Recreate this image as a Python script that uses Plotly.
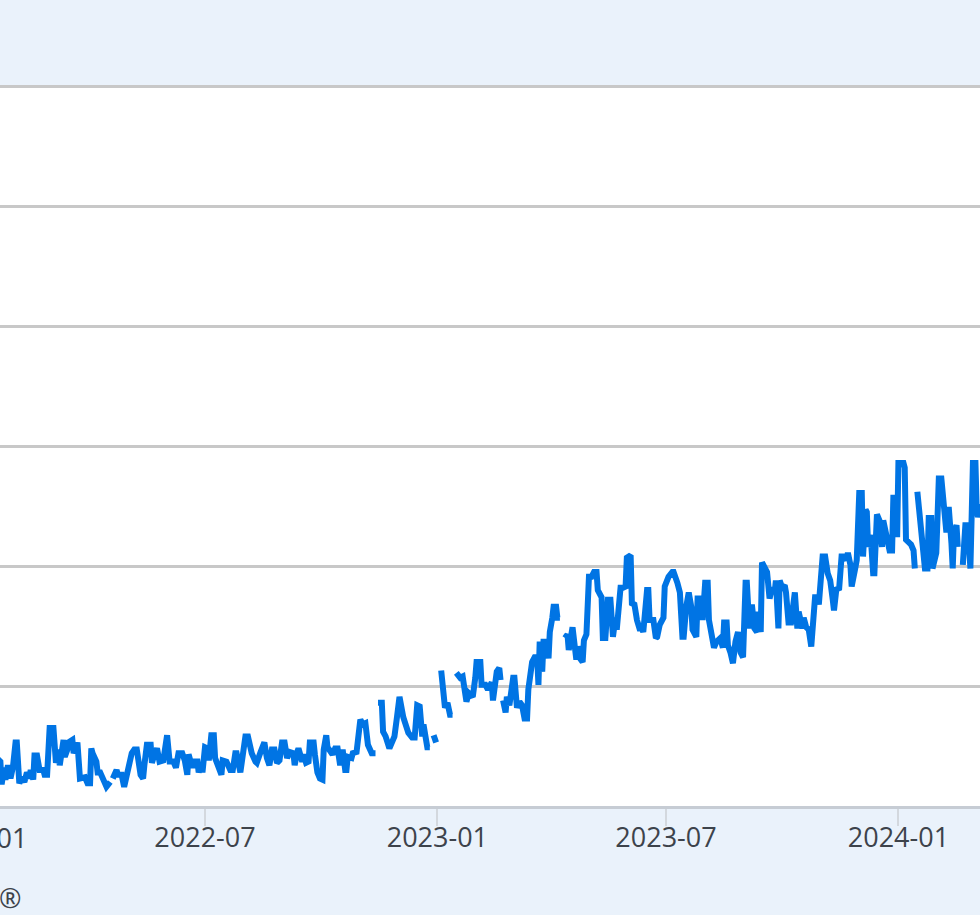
import pandas as pd
import plotly.graph_objects as go

# Day offsets from 2022-01-01 and observed values (None = gap in the series)
days_since_2022 = [
    16, 19, 20, 22, 23, 25, 27, 29, 31, 32, 34, 36, 38, 40, 42, 43, 45, 46, 48, 50,
    53, 54, 56, 58, 61, 63, 65, 66, 69, 70, 72, 73, 76, 77, 79, 80, 82, 84, 86, 88,
    90, 91, 92, 95, 96, 98, 100, 103, 106, 107, 108, 111, 112, 115, 117, 119, 121, 123, 125, 127,
    130, 132, 133, 135, 138, 139, 141, 143, 145, 148, 151, 153, 156, 158, 160, 163, 165, 167, 168, 171,
    172, 175, 176, 178, 179, 181, 183, 184, 186, 188, 189, 191, 194, 195, 198, 201, 203, 205, 206, 209,
    210, 213, 215, 218, 221, 222, 225, 227, 228, 230, 232, 234, 236, 238, 240, 242, 244, 246, 248, 251,
    252, 254, 255, 258, 259, 261, 263, 264, 267, 268, 270, 272, 274, 275, 277, 278, 281, 282, 284, 286,
    288, 290, 292, 293, 294, 297, 298, 301, 304, 306, 308, 310, 313, 316, 317, 318, 321, 322, 324, 327,
    329, 331, 333, 335, 338, 339, 342, 345, 347, 349, 351, 353, 354, 357, 359, 360, 362, 364, 365, 368,
    370, 371, 373, 375, 377, 379, 380, 383, 385, 386, 388, 390, 393, 395, 396, 399, 400, 403, 405, 408,
    409, 412, 414, 415, 416, 417, 419, 420, 422, 425, 426, 428, 430, 432, 434, 436, 437, 440, 442, 444,
    445, 446, 448, 449, 452, 453, 454, 456, 457, 459, 460, 462, 463, 466, 468, 469, 471, 472, 475, 476,
    478, 480, 481, 483, 485, 487, 489, 491, 492, 495, 496, 498, 500, 502, 504, 506, 507, 510, 512, 514,
    515, 518, 519, 521, 523, 525, 527, 528, 531, 532, 533, 536, 538, 539, 541, 544, 545, 548, 551, 552,
    555, 557, 559, 560, 562, 564, 566, 567, 570, 571, 574, 575, 577, 579, 580, 582, 584, 586, 589, 591,
    592, 594, 595, 597, 599, 601, 603, 605, 607, 609, 610, 612, 614, 616, 618, 619, 621, 622, 626, 628,
    630, 632, 633, 635, 636, 638, 640, 641, 643, 645, 647, 648, 650, 651, 654, 655, 657, 659, 661, 662,
    664, 666, 667, 670, 672, 674, 676, 678, 679, 681, 683, 685, 687, 689, 690, 692, 693, 696, 697, 699,
    701, 702, 704, 705, 706, 708, 710, 711, 712, 713, 715, 717, 718, 720, 721, 723, 725, 726, 728, 729,
    730, 734, 735, 736, 738, 740, 742, 743, 744, 745, 747, 749, 751, 753, 754, 756, 757, 760, 761, 762,
    764, 766, 768, 769, 770, 772, 773, 774, 776, 777, 779, 781, 783, 785, 787, 789, 791, 792, 793, 796,
    799,
]

values = [
    4.0, 3.7, 1.8, 3.2, 2.2, 3.4, 2.3, 3.3, 5.3, 5.3, 1.9, 2.4, 2.0, 2.8, 2.3, 3.0, 2.2, 4.2, 4.2, 3.0,
    3.0, 2.6, 2.6, 6.5, 6.5, 3.6, 4.7, 3.4, 5.5, 4.1, 4.7, 5.3, 5.5, 4.4, 4.9, 5.3, 2.3, 2.3, 2.4, 1.9,
    1.9, 4.8, 4.4, 3.7, 2.8, 2.8, 2.4, 1.6, 2.0, None, 2.3, 3.0, 2.6, 2.6, 1.6, 2.6, 3.3, 4.4, 4.7, 4.7,
    2.6, 2.3, 3.4, 5.1, 5.1, 3.6, 4.3, 4.8, 3.7, 3.8, 5.9, 3.7, 3.7, 3.2, 4.4, 4.4, 3.8, 2.6, 4.3, 3.2,
    3.7, 3.7, 2.8, 3.6, 2.8, 4.9, 4.8, 3.8, 5.9, 5.9, 4.0, 3.4, 2.6, 3.8, 3.7, 3.0, 3.0, 4.4, 4.4, 2.8,
    3.6, 5.8, 5.8, 4.4, 3.7, 3.6, 4.5, 5.3, 5.3, 4.0, 3.4, 4.7, 4.7, 3.6, 3.8, 5.3, 5.3, 4.0, 4.5, 4.4,
    3.4, 4.5, 4.8, 3.7, 4.3, 3.6, 3.7, 5.3, 5.3, 4.3, 2.8, 2.3, 2.2, 4.7, 5.9, 4.9, 4.4, 4.3, 4.8, 4.8,
    3.4, 4.7, 3.0, 3.0, 4.1, 4.0, 4.4, 4.5, 7.2, 6.8, 6.9, 5.1, 4.4, 4.4, None, 8.6, 8.6, 6.2, 5.8, 4.8,
    5.3, 5.8, 7.4, 9.1, 7.4, 7.0, 6.1, 5.7, 5.7, 8.4, 8.3, 5.8, 6.8, 4.9, 4.9, None, 5.9, 5.3, None, 11.3,
    8.3, 8.2, 8.6, 7.6, 7.6, None, 11.1, 10.7, 10.8, 9.7, 8.7, 9.4, 9.1, 10.7, 12.0, 12.0, 10.1, 10.1, 9.7, 10.3,
    8.8, 11.2, 11.5, 10.5, None, 8.8, 7.8, 9.1, 8.4, 10.7, 10.7, 8.2, 8.7, 8.4, 7.3, 7.3, 9.7, 12.0, 12.4, 12.4,
    10.1, 13.7, 11.2, 13.7, 13.7, 12.3, 14.5, 15.7, 16.6, 16.6, 15.7, 15.7, None, 14.0, 14.3, 13.0, 14.8, 14.9, 12.2, 13.3,
    12.3, 12.0, 13.8, 14.3, 19.1, 19.1, 19.5, 19.5, 18.0, 17.4, 14.0, 14.0, 17.2, 17.2, 14.1, 15.7, 14.7, 18.2, 18.2, 18.3,
    20.7, 20.9, 16.9, 16.8, 15.5, 14.8, 14.8, 14.5, 18.0, 18.0, 15.5, 15.5, 14.0, 14.1, 15.1, 15.7, 18.3, 19.1, 19.5, 19.5,
    18.6, 17.8, 14.1, 14.1, 16.6, 17.8, 16.6, 14.7, 14.1, 17.3, 17.3, 15.5, 18.6, 18.6, 15.5, 14.0, 13.2, 13.7, 14.0, 13.2,
    15.3, 15.3, 13.4, 12.8, 11.9, 13.7, 14.5, 12.8, 12.4, 18.6, 18.6, 14.8, 16.8, 14.8, 14.5, 16.2, 14.5, 20.3, 19.5, 17.3,
    18.2, 17.8, 18.8, 14.8, 18.8, 18.2, 18.4, 17.8, 15.3, 15.3, 17.8, 17.8, 14.8, 16.2, 14.8, 15.7, 14.9, 14.7, 13.3, 15.5,
    17.4, 17.4, 16.8, 20.8, 20.8, 19.4, 18.8, 17.2, 16.3, 18.2, 18.0, 20.8, 20.8, 20.5, 21.1, 20.1, 18.3, 19.9, 20.5, 26.1,
    26.1, 20.8, 24.7, 24.5, 21.6, 22.6, 19.4, 19.4, 21.9, 24.3, 23.8, 21.6, 23.8, 22.8, 21.8, 21.3, 21.3, 25.7, 25.7, 22.4,
    28.6, 28.6, 28.2, 22.2, 22.0, 21.8, 21.3, 19.8, None, 26.2, 23.7, 21.9, 19.8, 19.8, 24.0, 24.0, 19.8, 21.1, 26.5, 27.3,
    27.3, 25.5, 22.8, 24.7, 24.7, 21.9, 19.8, 22.8, 23.4, 21.6, None, 20.1, 23.4, 23.4, 19.8, 28.6, 28.6, 24.7, 24.1, 25.1,
    22.0,
]

y_ticks = [0, 10, 20, 30, 40, 50, 60]
y_top = 60.1
x_start_day = 18.7
x_end_day = 794.6
first_tick_label = "2022-01"
footer_text = "®"

base = pd.Timestamp("2022-01-01")
dates = [base + pd.Timedelta(days=d) for d in days_since_2022]
x_range = [base + pd.Timedelta(days=x_start_day), base + pd.Timedelta(days=x_end_day)]

BG = "#eaf2fb"
LINE = "#0074e4"
TXT = "#3d434b"
FONT = "Open Sans"

fig = go.Figure()
fig.add_trace(go.Scatter(
    x=dates, y=values, mode="lines", connectgaps=False,
    line=dict(color=LINE, width=6), hoverinfo="skip", showlegend=False,
))

W, H = 980, 915
ML, MR, MT, MB = 0, 0, 85, 109
plot_w = W - ML - MR
plot_h = H - MT - MB

fig.update_layout(
    width=W, height=H,
    margin=dict(l=ML, r=MR, t=MT, b=MB, pad=0),
    paper_bgcolor=BG, plot_bgcolor="#ffffff",
    font=dict(family=FONT, size=27, color=TXT),
    xaxis=dict(
        type="date", range=x_range,
        tick0="2022-01-01", dtick="M6", tickformat="%Y-%m",
        ticks="outside", ticklen=17, tickwidth=2, tickcolor="#d3d8de",
        ticklabelstandoff=-11,
        showgrid=False, zeroline=False,
        showline=True, linecolor="#c6ccd4", linewidth=3,
        tickfont=dict(family=FONT, size=27, color=TXT),
        fixedrange=True,
    ),
    yaxis=dict(
        range=[y_ticks[0], y_top], tickvals=y_ticks,
        showticklabels=False, ticks="",
        showgrid=True, gridcolor="#c8c8c8", gridwidth=3,
        zeroline=False, showline=False, fixedrange=True,
    ),
)

# Tick label of 2022-01, just left of the visible area (cut off at the edge as in the source)
fig.add_annotation(
    xref="paper", yref="paper",
    x=-23.6 / plot_w, y=(806 - 837) / plot_h,
    text=first_tick_label, showarrow=False,
    xanchor="center", yanchor="middle",
    font=dict(family=FONT, size=27, color=TXT),
)
fig.add_annotation(
    xref="paper", yref="paper",
    x=0, y=(806 - 897) / plot_h, xshift=-3,
    text=footer_text, showarrow=False,
    xanchor="left", yanchor="middle",
    font=dict(family=FONT, size=27, color=TXT),
)

fig.write_html(
    "out.html",
    config={"displayModeBar": False, "staticPlot": True},
    post_script="document.body.style.margin='0';document.body.style.overflow='hidden';",
)
